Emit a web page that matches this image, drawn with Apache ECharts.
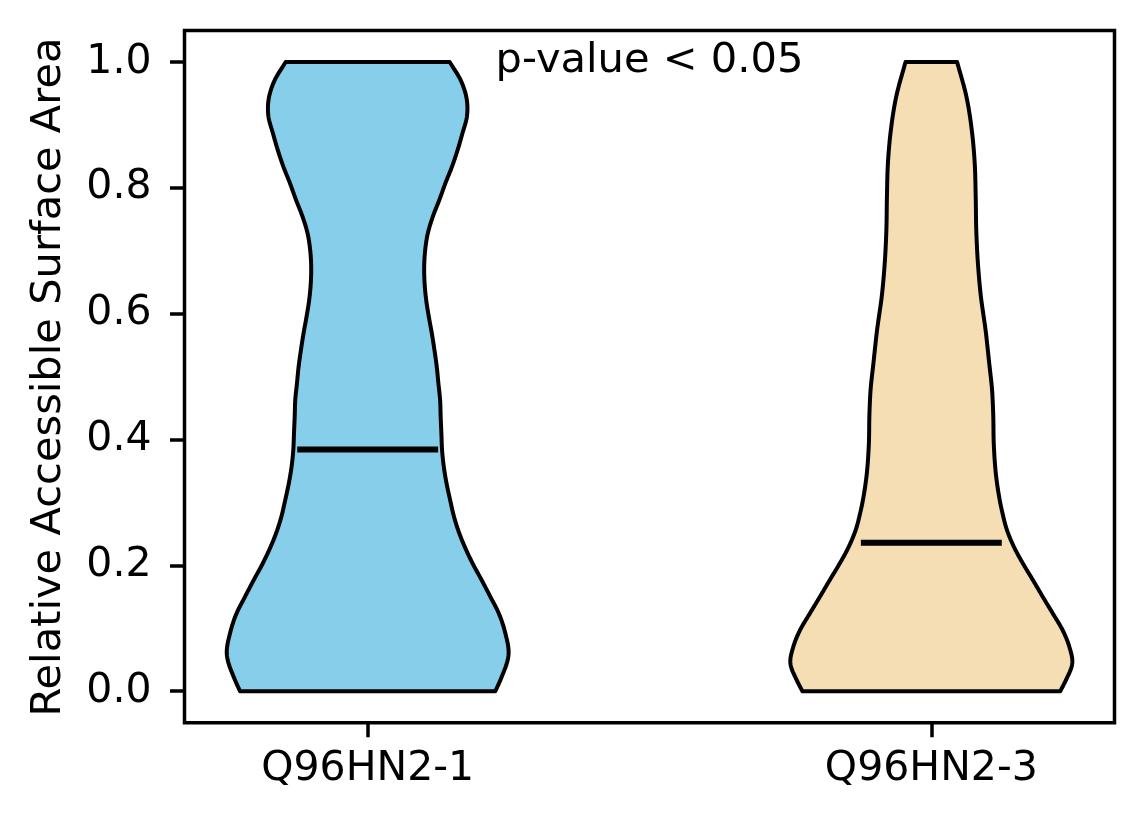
<!DOCTYPE html>
<html>
<head>
<meta charset="utf-8">
<script src="https://cdn.jsdelivr.net/npm/echarts@6/dist/echarts.min.js"></script>
<style>
  html, body { margin: 0; padding: 0; background: #fff; }
  #chart { width: 1144px; height: 824px; }
</style>
</head>
<body>
<div id="chart"></div>
<script>
// ---- data ----
const categories = ['Q96HN2-1', 'Q96HN2-3'];
const positions = [1, 2];
const yTicks = [0, 0.2, 0.4, 0.6, 0.8, 1.0];
const medians = [0.384, 0.236];
const annotation = 'p-value < 0.05';
const yAxisTitle = 'Relative Accessible Surface Area';

// violin profiles: y values and relative density (1 = widest point)
const profileY1 = [0.000, 0.018, 0.060, 0.092, 0.124, 0.150, 0.177, 0.203, 0.230, 0.251, 0.277, 0.304, 0.330, 0.357, 0.383, 0.410, 0.436, 0.463, 0.489, 0.516, 0.542, 0.569, 0.595, 0.622, 0.648, 0.675, 0.701, 0.728, 0.754, 0.781, 0.807, 0.834, 0.860, 0.887, 0.913, 0.939, 0.971, 1.000];
const density1  = [0.906, 0.942, 1.000, 0.977, 0.930, 0.871, 0.808, 0.745, 0.688, 0.650, 0.613, 0.585, 0.560, 0.540, 0.528, 0.523, 0.518, 0.514, 0.502, 0.490, 0.474, 0.455, 0.434, 0.415, 0.404, 0.401, 0.408, 0.427, 0.462, 0.509, 0.551, 0.599, 0.638, 0.673, 0.704, 0.704, 0.660, 0.582];

const profileY2 = [0.000, 0.018, 0.044, 0.071, 0.097, 0.124, 0.150, 0.177, 0.203, 0.230, 0.256, 0.283, 0.336, 0.389, 0.442, 0.479, 0.521, 0.574, 0.627, 0.679, 0.733, 0.786, 0.839, 0.892, 0.945, 1.000];
const density2  = [0.915, 0.956, 1.000, 0.979, 0.932, 0.861, 0.791, 0.720, 0.650, 0.585, 0.537, 0.505, 0.463, 0.444, 0.439, 0.431, 0.411, 0.385, 0.352, 0.331, 0.319, 0.315, 0.308, 0.287, 0.249, 0.183];

const profiles = [
  { ys: profileY1, ws: density1 },
  { ys: profileY2, ws: density2 }
];
const fills = ['#87CEEB', '#F5DEB3'];

// ---- rendering ----
const HALF_WIDTH = 0.25;   // violin widths 0.5
const MEDIAN_HALF = 0.125; // median line spans width/4 each side
const FONT = 'DejaVu Sans';

// smooth curve through the read points (cubic Hermite in y), for drawing only
function smoothProfile(ys, ws, steps) {
  const n = ys.length;
  const m = new Array(n);
  for (let i = 0; i < n; i++) {
    if (i === 0) m[i] = (ws[1] - ws[0]) / (ys[1] - ys[0]);
    else if (i === n - 1) m[i] = (ws[n - 1] - ws[n - 2]) / (ys[n - 1] - ys[n - 2]);
    else {
      const h0 = ys[i] - ys[i - 1], h1 = ys[i + 1] - ys[i];
      const d0 = (ws[i] - ws[i - 1]) / h0, d1 = (ws[i + 1] - ws[i]) / h1;
      m[i] = (d0 * h1 + d1 * h0) / (h0 + h1);
    }
  }
  const out = [[ys[0], ws[0]]];
  for (let i = 0; i < n - 1; i++) {
    const h = ys[i + 1] - ys[i];
    for (let s = 1; s <= steps; s++) {
      const t = s / steps;
      const t2 = t * t, t3 = t2 * t;
      const w = (2*t3 - 3*t2 + 1) * ws[i] + (t3 - 2*t2 + t) * h * m[i]
              + (-2*t3 + 3*t2) * ws[i + 1] + (t3 - t2) * h * m[i + 1];
      out.push([ys[i] + t * h, w]);
    }
  }
  return out;
}

function makeRenderer(idx) {
  return function (params, api) {
    const pos = api.value(0);
    const med = api.value(1);
    const pr = profiles[idx];
    const curve = smoothProfile(pr.ys, pr.ws, 12);
    const right = curve.map(c => api.coord([pos + HALF_WIDTH * c[1], c[0]]));
    const left = curve.map(c => api.coord([pos - HALF_WIDTH * c[1], c[0]])).reverse();
    const pts = right.concat(left);
    const m1 = api.coord([pos - MEDIAN_HALF, med]);
    const m2 = api.coord([pos + MEDIAN_HALF, med]);
    return {
      type: 'group',
      children: [
        {
          type: 'polygon',
          shape: { points: pts },
          style: { fill: fills[idx], stroke: '#000', lineWidth: 4, lineJoin: 'round' }
        },
        {
          type: 'line',
          shape: { x1: m1[0], y1: m1[1], x2: m2[0], y2: m2[1] },
          style: { stroke: '#000', lineWidth: 6 }
        }
      ]
    };
  };
}

const chart = echarts.init(document.getElementById('chart'), null, { renderer: 'canvas' });

const series = positions.map((p, i) => ({
  type: 'custom',
  renderItem: makeRenderer(i),
  data: [[p, medians[i]]],
  encode: { x: 0, y: 1 },
  clip: true,
  silent: true,
  animation: false
}));

chart.setOption({
  animation: false,
  backgroundColor: '#fff',
  grid: {
    left: 184.5, top: 30.5, right: 29.5, height: 692.2,
    show: true, borderColor: '#000', borderWidth: 3.5, backgroundColor: 'transparent'
  },
  xAxis: {
    type: 'value', min: 0.675, max: 2.325,
    axisLine: { show: false, onZero: false },
    splitLine: { show: false },
    axisTick: { show: true, length: 14.5, lineStyle: { color: '#000', width: 3.5 }, customValues: positions },
    axisLabel: {
      customValues: positions, margin: 26, color: '#000', fontFamily: FONT, fontSize: 41,
      formatter: v => categories[positions.indexOf(Math.round(v))] || ''
    }
  },
  yAxis: {
    type: 'value', min: -0.05, max: 1.05,
    axisLine: { show: false, onZero: false },
    splitLine: { show: false },
    axisTick: { show: true, length: 14.5, lineStyle: { color: '#000', width: 3.5 }, customValues: yTicks },
    axisLabel: {
      customValues: yTicks, margin: 33, color: '#000', fontFamily: FONT, fontSize: 41,
      formatter: v => Number(v).toFixed(1)
    }
  },
  series: series
});

const annPix = chart.convertToPixel({ gridIndex: 0 }, [1.5, 1.0]);
chart.setOption({
  graphic: [
    {
      type: 'text', x: annPix[0], y: annPix[1] - 1,
      style: { text: annotation, font: '41.6px "' + FONT + '"', fill: '#000', align: 'center', verticalAlign: 'middle' }
    },
    {
      type: 'text', x: 49, y: 377, rotation: Math.PI / 2,
      style: { text: yAxisTitle, font: '41.6px "' + FONT + '"', fill: '#000', align: 'center', verticalAlign: 'middle' }
    }
  ]
});
</script>
</body>
</html>
